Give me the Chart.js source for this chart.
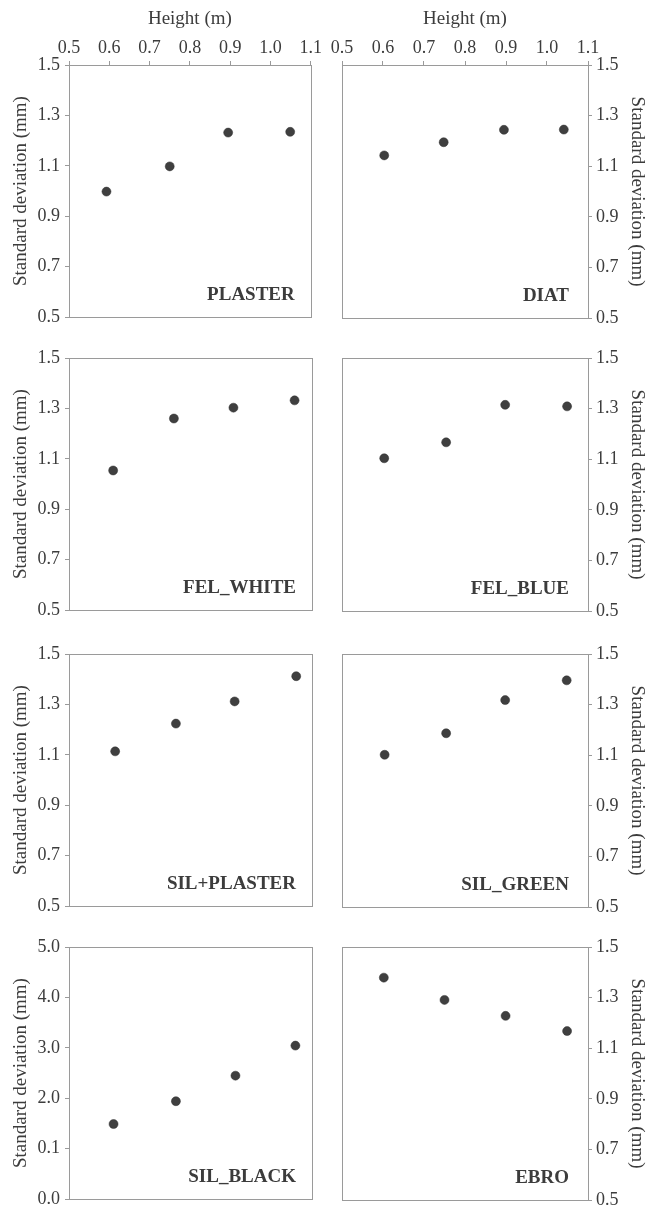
<!DOCTYPE html>
<html>
<head>
<meta charset="utf-8">
<title>Standard deviation vs height</title>
<script src="https://cdn.jsdelivr.net/npm/chart.js@4.4.1/dist/chart.umd.min.js"></script>
<style>
    html, body { margin: 0; padding: 0; background: #fff; overflow: hidden; }
    #wrap { position: relative; width: 646px; height: 1208px; }
    #wrap canvas { position: absolute; }
</style>
</head>
<body>
<div id="wrap"></div>
<script>
// Data: height (m) vs standard deviation (mm)
const plasterX = [0.593, 0.750, 0.895, 1.049];
const plasterY = [0.998, 1.098, 1.232, 1.235];
const diatX = [0.603, 0.748, 0.895, 1.041];
const diatY = [1.143, 1.195, 1.244, 1.245];
const felWhiteX = [0.609, 0.759, 0.906, 1.057];
const felWhiteY = [1.054, 1.260, 1.303, 1.332];
const felBlueX = [0.603, 0.754, 0.898, 1.049];
const felBlueY = [1.104, 1.167, 1.315, 1.309];
const silPlasterX = [0.614, 0.764, 0.909, 1.061];
const silPlasterY = [1.114, 1.224, 1.312, 1.412];
const silGreenX = [0.604, 0.754, 0.898, 1.048];
const silGreenY = [1.102, 1.187, 1.318, 1.396];
const silBlackX = [0.610, 0.764, 0.911, 1.059];
const silBlackY = [1.49, 1.943, 2.449, 3.045];
const ebroX = [0.602, 0.750, 0.899, 1.049];
const ebroY = [1.379, 1.291, 1.228, 1.168];

// Tick values and labels
const xTickValues = [0.5, 0.6, 0.7, 0.8, 0.9, 1.0, 1.1];
const xTickLabels = ['0.5', '0.6', '0.7', '0.8', '0.9', '1.0', '1.1'];
const yTickValues = [0.5, 0.7, 0.9, 1.1, 1.3, 1.5];
const yTickLabels = ['0.5', '0.7', '0.9', '1.1', '1.3', '1.5'];
const blackTickValues = [0, 1, 2, 3, 4, 5];
const blackTickLabels = ['0.0', '0.1', '2.0', '3.0', '4.0', '5.0'];

const SERIF = '"Liberation Serif", "Times New Roman", serif';
const INK = '#3c3c3c';
const LINE = '#9a9a9a';
const DOT = '#3f3f3f';

const rowTop = [65, 358, 654, 947];
const panelH = 254;

const panels = [
    { name: 'PLASTER', x: plasterX, y: plasterY, row: 0, col: 0 },
    { name: 'DIAT', x: diatX, y: diatY, row: 0, col: 1 },
    { name: 'FEL_WHITE', x: felWhiteX, y: felWhiteY, row: 1, col: 0 },
    { name: 'FEL_BLUE', x: felBlueX, y: felBlueY, row: 1, col: 1 },
    { name: 'SIL+PLASTER', x: silPlasterX, y: silPlasterY, row: 2, col: 0 },
    { name: 'SIL_GREEN', x: silGreenX, y: silGreenY, row: 2, col: 1 },
    { name: 'SIL_BLACK', x: silBlackX, y: silBlackY, row: 3, col: 0, big: true },
    { name: 'EBRO', x: ebroX, y: ebroY, row: 3, col: 1 }
];

// box around the plot area + panel name in the lower right corner
const framePlugin = {
    id: 'frame',
    beforeDatasetsDraw(chart) {
        const a = chart.chartArea;
        const ctx = chart.ctx;
        ctx.save();
        ctx.strokeStyle = LINE;
        ctx.lineWidth = 1;
        ctx.strokeRect(Math.round(a.left) + 0.5, Math.round(a.top) + 0.5,
            Math.round(a.right - a.left), Math.round(a.bottom - a.top));
        ctx.restore();
    },
    afterDraw(chart, args, opts) {
        const a = chart.chartArea;
        const ctx = chart.ctx;
        ctx.save();
        ctx.fillStyle = INK;
        ctx.font = 'bold 19px ' + SERIF;
        ctx.textAlign = 'right';
        ctx.textBaseline = 'alphabetic';
        ctx.fillText(opts.text, a.right - opts.inset, a.bottom - 17);
        ctx.restore();
    }
};

function makePanel(p) {
    const wrap = document.getElementById('wrap');
    const first = p.row === 0;
    const left = p.col === 0;
    const canvas = document.createElement('canvas');
    const top = first ? 0 : rowTop[p.row] - 20;
    const height = (first ? 65 : 20) + panelH + 14;
    canvas.width = 324;
    canvas.height = height;
    canvas.style.left = (left ? 0 : 324) + 'px';
    canvas.style.top = top + 'px';
    wrap.appendChild(canvas);

    const yVals = p.big ? blackTickValues : yTickValues;
    const yLabs = p.big ? blackTickLabels : yTickLabels;

    new Chart(canvas.getContext('2d'), {
        type: 'scatter',
        data: {
            datasets: [{
                data: p.x.map((v, i) => ({ x: v, y: p.y[i] })),
                pointRadius: 4.5,
                pointBackgroundColor: DOT,
                pointBorderColor: '#303030',
                pointBorderWidth: 0.5,
                showLine: false
            }]
        },
        options: {
            responsive: false,
            animation: false,
            layout: {
                padding: {
                    top: first ? 0 : 20,
                    bottom: 14,
                    left: left ? 0 : 18,
                    right: left ? 12 : 0
                }
            },
            plugins: {
                legend: { display: false },
                tooltip: { enabled: false },
                frame: { text: p.name, inset: left ? 16 : 19 }
            },
            scales: {
                x: {
                    type: 'linear',
                    position: 'top',
                    display: first,
                    min: 0.5,
                    max: 1.1,
                    afterBuildTicks: function(scale) {
                        scale.ticks = xTickValues.map(v => ({ value: v }));
                    },
                    afterFit: function(scale) {
                        scale.height = first ? 65 : 0;
                    },
                    ticks: {
                        color: INK,
                        padding: 2,
                        maxRotation: 0,
                        font: { family: SERIF, size: 18 },
                        callback: function(value, index) {
                            return xTickLabels[index];
                        }
                    },
                    grid: { drawOnChartArea: false, tickLength: 4, color: LINE },
                    border: { color: LINE },
                    title: {
                        display: true,
                        text: 'Height (m)',
                        color: INK,
                        padding: { top: 8, bottom: 0 },
                        font: { family: SERIF, size: 19 }
                    }
                },
                y: {
                    type: 'linear',
                    position: left ? 'left' : 'right',
                    min: yVals[0],
                    max: yVals[yVals.length - 1],
                    afterBuildTicks: function(scale) {
                        scale.ticks = yVals.map(v => ({ value: v }));
                    },
                    afterFit: function(scale) {
                        scale.width = left ? 69 : 60;
                    },
                    ticks: {
                        color: INK,
                        padding: left ? 5 : 4,
                        font: { family: SERIF, size: 18 },
                        callback: function(value, index) {
                            return yLabs[index];
                        }
                    },
                    grid: { drawOnChartArea: false, tickLength: 4, color: LINE },
                    border: { color: LINE },
                    title: {
                        display: true,
                        text: 'Standard deviation (mm)',
                        color: INK,
                        padding: { top: left ? 10 : 0, bottom: 0 },
                        font: { family: SERIF, size: 19 }
                    }
                }
            }
        },
        plugins: [framePlugin]
    });
}

panels.forEach(makePanel);
</script>
</body>
</html>
